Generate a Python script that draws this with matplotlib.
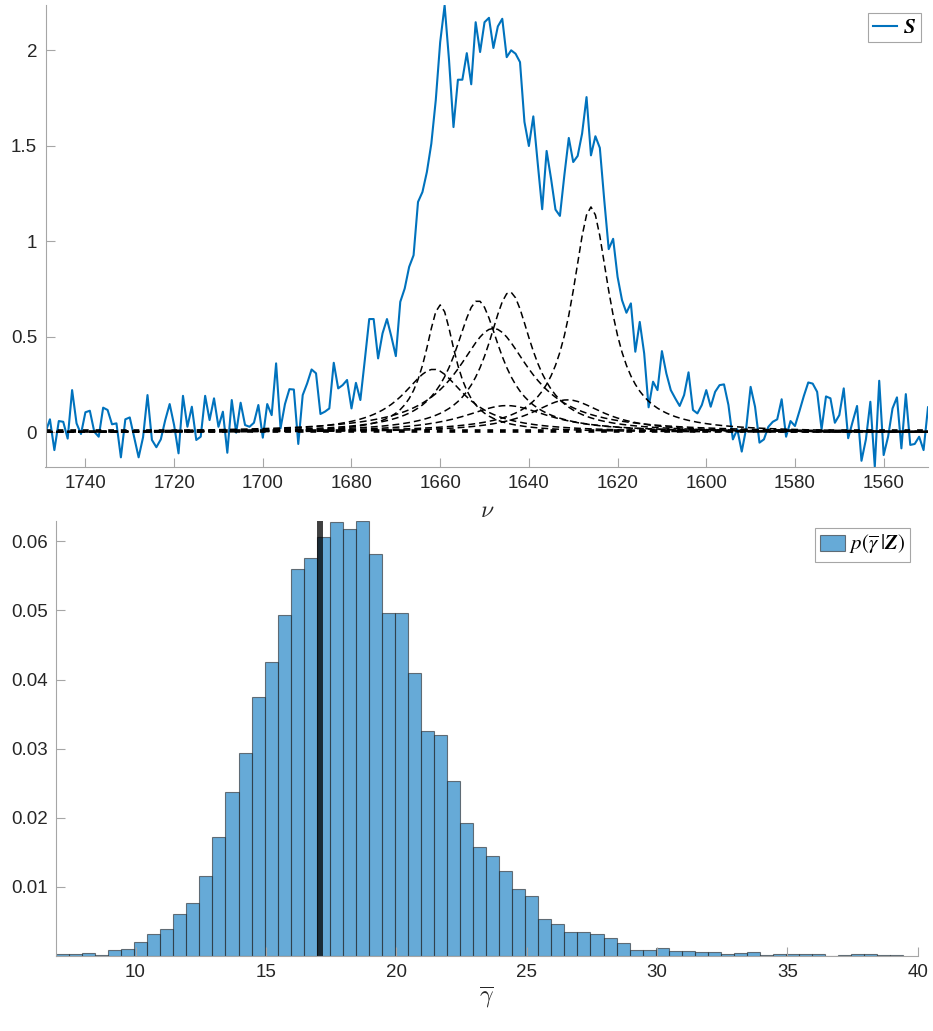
import numpy as np
import matplotlib.pyplot as plt
from matplotlib.font_manager import FontProperties

# 光谱数据: 波数 1749 -> 1550, 步长 1
nu = np.arange(1749, 1549, -1)
S = [0.000, 0.068, -0.093, 0.059, 0.055, -0.033, 0.221, 0.047, -0.009, 0.105,
     0.113, 0.003, -0.023, 0.129, 0.117, 0.042, 0.047, -0.131, 0.068, 0.078,
     -0.026, -0.131, -0.026, 0.195, -0.040, -0.078, -0.037, 0.064, 0.148, 0.038,
     -0.110, 0.191, 0.029,
     0.134, -0.040, -0.023, 0.191, 0.064, 0.178, 0.029, 0.108, -0.107, 0.169,
     -0.002, 0.155, 0.038, 0.029, 0.050, 0.143, -0.028, 0.148, 0.090, 0.361,
     0.021, 0.148, 0.226, 0.224, -0.061, 0.195, 0.256, 0.329, 0.309, 0.096,
     0.108, 0.125, 0.364,
     0.230, 0.247, 0.274, 0.125, 0.259, 0.169, 0.378, 0.593, 0.593, 0.387,
     0.518, 0.593, 0.500, 0.399, 0.683, 0.753, 0.866, 0.927, 1.206, 1.258,
     1.363, 1.511, 1.738, 2.043, 2.235, 1.947, 1.598, 1.846, 1.846, 1.985,
     1.822, 2.147, 1.991,
     2.147, 2.170, 2.012, 2.125, 2.165, 1.964, 2.000, 1.982, 1.938, 1.625,
     1.499, 1.654, 1.407, 1.168, 1.473, 1.328, 1.166, 1.133, 1.346, 1.541,
     1.415, 1.447, 1.564, 1.755, 1.450, 1.550, 1.489, 1.215, 0.959, 1.013,
     0.814, 0.692,
     0.626, 0.675, 0.422, 0.578, 0.413, 0.131, 0.265, 0.221, 0.425, 0.308,
     0.221, 0.178, 0.138, 0.195, 0.314, 0.117, 0.099, 0.143, 0.221, 0.134,
     0.212, 0.247, 0.251, 0.143, -0.037, 0.016, -0.101, 0.021, 0.238, 0.134,
     -0.054, -0.037, 0.029, 0.055, 0.068, 0.173, -0.023, 0.059, 0.033, 0.110,
     0.190, 0.261, 0.255, 0.212, 0.016, 0.188, 0.178, 0.050, 0.090, 0.230,
     -0.031, 0.055, 0.138, -0.149, -0.037, 0.160, -0.180, 0.270, -0.119, -0.023,
     0.125, 0.183, -0.084, 0.200, -0.066, -0.061, -0.023, -0.093, 0.131]

# 各分量峰 (洛伦兹线型): 中心, 峰高, 半高半宽
peak_center = [1660.0, 1651.5, 1644.3, 1648.0, 1661.5, 1645.0, 1631.3, 1626.0]
peak_height = [0.667, 0.690, 0.735, 0.544, 0.330, 0.140, 0.170, 1.180]
peak_hwhm = [4.2, 6.4, 6.2, 10.0, 8.5, 12.0, 10.0, 5.2]
# 基线分量
baseline_level = 0.008

# 后验直方图 p(gamma | Z), 组距 0.5
bin_left = 6.95
bin_width = 0.5
p_gamma = [0.00026, 0.00026, 0.00045, 0.0001, 0.00084, 0.00098, 0.0020, 0.0031, 0.0039, 0.0061,
           0.0076, 0.0115, 0.0172, 0.0237, 0.0293, 0.0374, 0.0425, 0.0494, 0.0560, 0.0576,
           0.0607, 0.0628, 0.0618, 0.0630, 0.0582, 0.0496, 0.0496, 0.0410, 0.0326, 0.0320,
           0.0253, 0.0192, 0.0157, 0.0145, 0.0122, 0.0097, 0.0086, 0.0053, 0.0046, 0.0035,
           0.0035, 0.0031, 0.0025, 0.0019, 0.00084, 0.00084, 0.0011, 0.00074, 0.00074, 0.0006,
           0.0006, 0.0002, 0.00035, 0.0006, 0.00005, 0.0002, 0.0002, 0.0002, 0.0002, 0.0,
           0.00005, 0.0002, 0.0002, 0.00007, 0.00007]
gamma_mean = 17.08

nu_ticks = [1740, 1720, 1700, 1680, 1660, 1640, 1620, 1600, 1580, 1560]
S_ticks = [0, 0.5, 1, 1.5, 2]
S_ticklabels = ['0', '0.5', '1', '1.5', '2']
gamma_ticks = [10, 15, 20, 25, 30, 35, 40]
p_ticks = [0.01, 0.02, 0.03, 0.04, 0.05, 0.06]

AXIS_GRAY = '#a6a6a6'
TEXT_GRAY = '#262626'
BLUE = '#0072BD'


def style_axes(ax):
    for side in ['top', 'right']:
        ax.spines[side].set_visible(False)
    for side in ['left', 'bottom']:
        ax.spines[side].set_color(AXIS_GRAY)
        ax.spines[side].set_linewidth(0.8)
    ax.tick_params(direction='in', length=6.5, width=0.8, color=AXIS_GRAY,
                   labelcolor=TEXT_GRAY, labelsize=13.5, pad=6)


if __name__ == '__main__':
    plt.rcParams['font.family'] = ['Liberation Sans', 'DejaVu Sans']
    plt.rcParams['mathtext.fontset'] = 'cm'
    legend_font = FontProperties(family='Liberation Sans', size=15, math_fontfamily='stix')

    W, H = 933, 1031
    fig = plt.figure(figsize=(W / 100, H / 100), dpi=100)

    # 上图: 光谱 + 分量峰
    ax1 = fig.add_axes([45.5 / W, 1 - 466.7 / H, 882.5 / W, 461.3 / H])
    ax1.plot(nu, S, color=BLUE, lw=1.5, label=r'$\boldsymbol{S}$')
    for c, h, w in zip(peak_center, peak_height, peak_hwhm):
        ax1.plot(nu, h / (1 + ((nu - c) / w) ** 2), color='k', lw=1.1,
                 ls=(0, (4.5, 2.6)))
    ax1.plot(nu, np.full(len(nu), baseline_level), color='k', lw=2.6,
             ls=(0, (1.6, 1.9)))
    ax1.set_xlim(1749, 1550)
    ax1.set_ylim(min(S), max(S))
    ax1.set_xticks(nu_ticks)
    ax1.set_yticks(S_ticks)
    ax1.set_yticklabels(S_ticklabels)
    style_axes(ax1)
    ax1.set_xlabel(r'$\nu$', fontsize=17, color=TEXT_GRAY, labelpad=6)
    leg1 = ax1.legend(loc='upper right', prop=legend_font, handlelength=1.15,
                      handletextpad=0.25, borderpad=0.25, borderaxespad=0.35,
                      fancybox=False, framealpha=1)
    leg1.get_frame().set_edgecolor(AXIS_GRAY)
    leg1.get_frame().set_linewidth(0.8)

    # 下图: 后验直方图
    ax2 = fig.add_axes([56 / W, 1 - 955.7 / H, 861.7 / W, 435 / H])
    edges = bin_left + bin_width * np.arange(len(p_gamma) + 1)
    ax2.bar(edges[:-1], p_gamma, width=bin_width, align='edge',
            color=BLUE, alpha=0.6, edgecolor='#262626', lw=0.8,
            label=r'$p(\overline{\gamma}\;|\boldsymbol{Z})$')
    ax2.axvline(gamma_mean, color='k', alpha=0.75, lw=4.3)
    ax2.set_xlim(edges[0], 40)
    ax2.set_ylim(0, max(p_gamma))
    ax2.set_xticks(gamma_ticks)
    ax2.set_yticks(p_ticks)
    ax2.set_yticklabels(['0.01', '0.02', '0.03', '0.04', '0.05', '0.06'])
    style_axes(ax2)
    ax2.set_xlabel(r'$\overline{\gamma}$', fontsize=17, color=TEXT_GRAY, labelpad=3)
    leg2 = ax2.legend(loc='upper right', prop=legend_font, handlelength=1.2,
                      handleheight=0.75, handletextpad=0.15, borderpad=0.25,
                      borderaxespad=0.35, fancybox=False, framealpha=1)
    leg2.get_frame().set_edgecolor(AXIS_GRAY)
    leg2.get_frame().set_linewidth(0.8)

    fig.savefig('out.png', dpi=100)
